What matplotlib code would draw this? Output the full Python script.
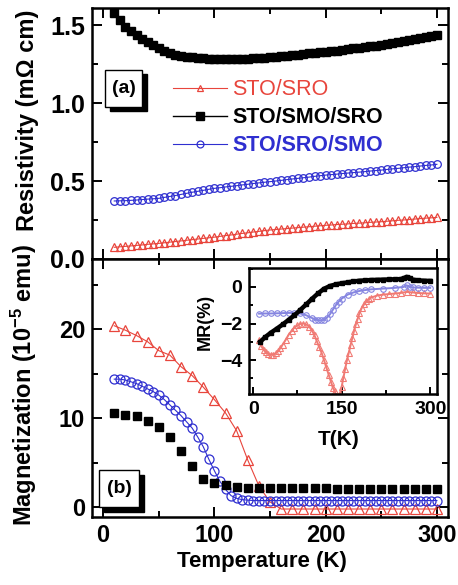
import matplotlib
matplotlib.use('Agg')
import matplotlib.pyplot as plt
import matplotlib.ticker as ticker
from matplotlib.patches import Rectangle

plt.rcParams['font.family'] = ['Liberation Sans', 'DejaVu Sans']
plt.rcParams['font.weight'] = 'bold'
plt.rcParams['mathtext.fontset'] = 'custom'
plt.rcParams['mathtext.rm'] = 'Liberation Sans:bold'
plt.rcParams['mathtext.default'] = 'rm'

RED = '#e8453c'
BLUE = '#2f2fd0'
RED_LIGHT = '#f07a74'
BLUE_LIGHT = '#8585e0'

# --- (a) resistivity, mOhm cm ---
t_rho = [10, 15, 20, 25, 30, 35, 40, 45, 50, 55, 60, 65, 70, 75, 80, 85,
         90, 95, 100, 105, 110, 115, 120, 125, 130, 135, 140, 145, 150,
         155, 160, 165, 170, 175, 180, 185, 190, 195, 200, 205, 210, 215,
         220, 225, 230, 235, 240, 245, 250, 255, 260, 265, 270, 275, 280,
         285, 290, 295, 300]
rho_sro = [0.075, 0.078, 0.081, 0.084, 0.087, 0.090, 0.094, 0.097, 0.100,
           0.104, 0.108, 0.112, 0.116, 0.120, 0.124, 0.128, 0.132, 0.136,
           0.140, 0.145, 0.150, 0.154, 0.159, 0.164, 0.168, 0.173, 0.177,
           0.182, 0.186, 0.189, 0.192, 0.195, 0.198, 0.201, 0.204, 0.207,
           0.210, 0.213, 0.216, 0.218, 0.221, 0.223, 0.225, 0.228, 0.230,
           0.232, 0.235, 0.237, 0.239, 0.242, 0.245, 0.248, 0.250, 0.253,
           0.256, 0.259, 0.262, 0.264, 0.267]
rho_sro_smo = [0.372, 0.373, 0.374, 0.376, 0.378, 0.381, 0.384, 0.386,
               0.389, 0.395, 0.401, 0.407, 0.414, 0.421, 0.428, 0.434,
               0.440, 0.447, 0.453, 0.457, 0.462, 0.466, 0.470, 0.475,
               0.479, 0.484, 0.488, 0.492, 0.496, 0.500, 0.504, 0.509,
               0.513, 0.517, 0.521, 0.525, 0.530, 0.534, 0.538, 0.541,
               0.544, 0.548, 0.551, 0.554, 0.557, 0.560, 0.564, 0.567,
               0.570, 0.574, 0.578, 0.581, 0.585, 0.589, 0.592, 0.596,
               0.600, 0.603, 0.607]
t_rho_smo_sro = [5] + t_rho
rho_smo_sro = [1.64, 1.58, 1.53, 1.49, 1.46, 1.436, 1.413, 1.393, 1.373,
               1.355, 1.337, 1.320, 1.309, 1.300, 1.296, 1.293, 1.289,
               1.286, 1.284, 1.282, 1.281, 1.281, 1.281, 1.282, 1.283,
               1.285, 1.287, 1.289, 1.291, 1.293, 1.296, 1.299, 1.302,
               1.306, 1.310, 1.314, 1.318, 1.322, 1.325, 1.329, 1.333,
               1.337, 1.341, 1.346, 1.350, 1.354, 1.359, 1.363, 1.368,
               1.372, 1.378, 1.384, 1.390, 1.396, 1.402, 1.409, 1.416,
               1.422, 1.429, 1.436]

# --- (b) magnetization, 1e-5 emu ---
t_mag = [10, 20, 30, 40, 50, 60, 70, 80, 90, 100, 110, 120, 130, 140, 150,
         160, 170, 180, 190, 200, 210, 220, 230, 240, 250, 260, 270, 280,
         290, 300]
mag_sro = [20.4, 19.9, 19.3, 18.6, 17.6, 17.1, 15.8, 14.8, 13.5, 12.1,
           10.6, 8.6, 5.3, 2.4, 0.6, -0.2, -0.2, -0.2, -0.2, -0.2, -0.2,
           -0.2, -0.2, -0.2, -0.2, -0.2, -0.2, -0.2, -0.2, -0.2]
mag_smo_sro = [10.6, 10.4, 10.2, 9.7, 9.0, 7.9, 6.3, 4.6, 3.2, 2.7, 2.5,
               2.3, 2.2, 2.2, 2.2, 2.2, 2.2, 2.2, 2.2, 2.2, 2.1, 2.1, 2.1,
               2.1, 2.1, 2.1, 2.1, 2.1, 2.1, 2.1]
t_mag_fine = t_rho
mag_sro_smo = [14.4, 14.4, 14.3, 14.1, 13.9, 13.6, 13.3, 13.0, 12.6, 12.1,
               11.5, 10.9, 10.3, 9.6, 8.9, 7.9, 6.8, 5.4, 4.1, 2.9, 2.0,
               1.3, 1.0, 0.85, 0.8, 0.75, 0.75, 0.75, 0.75, 0.75, 0.75,
               0.75, 0.75, 0.75, 0.75, 0.75, 0.75, 0.75, 0.75, 0.75, 0.75,
               0.75, 0.75, 0.75, 0.75, 0.75, 0.75, 0.75, 0.75, 0.75, 0.75,
               0.75, 0.75, 0.75, 0.75, 0.75, 0.75, 0.75, 0.75]

# --- inset, MR (%) ---
t_mr_smo_sro = [12, 20, 30, 40, 50, 60, 70, 80, 90, 100, 110, 120, 130,
                140, 150, 160, 170, 180, 190, 200, 210, 220, 230, 240, 250,
                255, 260, 265, 270, 280, 290, 300]
mr_smo_sro = [-3.0, -2.75, -2.5, -2.28, -2.05, -1.8, -1.55, -1.25, -0.95,
              -0.64, -0.35, -0.1, 0.05, 0.14, 0.2, 0.25, 0.3, 0.34, 0.36,
              0.38, 0.39, 0.4, 0.41, 0.42, 0.43, 0.48, 0.55, 0.5, 0.4,
              0.36, 0.34, 0.33]
t_mr_sro_smo = [10, 20, 30, 40, 50, 60, 70, 80, 90, 100, 105, 110, 115,
                120, 125, 130, 135, 140, 145, 150, 160, 170, 180, 190, 200,
                220, 240, 255, 260, 265, 270, 280, 290, 300]
mr_sro_smo = [-1.46, -1.45, -1.45, -1.44, -1.43, -1.42, -1.42, -1.45,
              -1.55, -1.7, -1.78, -1.82, -1.83, -1.8, -1.68, -1.5, -1.25,
              -1.0, -0.8, -0.64, -0.42, -0.3, -0.22, -0.17, -0.13, -0.09,
              -0.05, 0.0, 0.09, 0.02, -0.03, -0.04, -0.05, -0.05]
t_mr_sro = [10, 14, 18, 22, 26, 30, 34, 38, 42, 46, 50, 55, 60, 65, 70, 75,
            80, 85, 90, 95, 100, 104, 108, 112, 116, 120, 124, 128, 132,
            135, 138, 141, 144, 147, 150, 153, 156, 159, 162, 165, 168, 171,
            174, 177, 180, 184, 188, 192, 196, 200, 210, 220, 230, 240, 250,
            260, 270, 280, 290, 300]
mr_sro = [-2.91, -3.25, -3.45, -3.58, -3.66, -3.70, -3.70, -3.62, -3.52,
          -3.35, -3.15, -2.9, -2.62, -2.4, -2.22, -2.1, -2.02, -2.0, -2.05,
          -2.17, -2.4, -2.65, -2.98, -3.3, -3.6, -4.0, -4.4, -4.8, -5.2,
          -5.5, -5.7, -5.95, -6.0, -5.85, -5.45, -4.95, -4.46, -4.0, -3.6,
          -3.19, -2.8, -2.4, -2.05, -1.75, -1.45, -1.15, -0.95, -0.78,
          -0.66, -0.58, -0.47, -0.42, -0.39, -0.36, -0.33, -0.27, -0.3,
          -0.33, -0.35, -0.36]


def style_axis(ax, major_len=7, minor_len=4, all_sides=True):
    for sp in ax.spines.values():
        sp.set_linewidth(1.8)
    ax.tick_params(which='both', direction='in', width=1.4,
                   top=all_sides, right=all_sides)
    ax.tick_params(which='major', length=major_len)
    ax.tick_params(which='minor', length=minor_len)


def panel_tag(ax, text, x0, y0, w, h, dx, dy):
    ax.add_patch(Rectangle((x0 + dx, y0 - dy), w, h, transform=ax.transAxes,
                           facecolor='black', edgecolor='black',
                           clip_on=False, zorder=5))
    ax.add_patch(Rectangle((x0, y0), w, h, transform=ax.transAxes,
                           facecolor='white', edgecolor='black', lw=1.0,
                           clip_on=False, zorder=6))
    ax.text(x0 + w / 2, y0 + h / 2, text, transform=ax.transAxes,
            ha='center', va='center', fontsize=14, fontweight='bold',
            zorder=7)


fig = plt.figure(figsize=(4.58, 5.85), dpi=100)
ax_a = fig.add_axes([0.2009, 0.5573, 0.7773, 0.4291])
ax_b = fig.add_axes([0.2009, 0.1162, 0.7773, 0.4410])
ax_in = fig.add_axes([0.5437, 0.3265, 0.4098, 0.2149])

# (a)
ax_a.plot(t_rho, rho_sro, color=RED, lw=0.8, marker='^', ms=5.5,
          mfc='none', mew=0.9, label='STO/SRO')
ax_a.plot(t_rho_smo_sro, rho_smo_sro, color='black', lw=1.0, marker='s',
          ms=6, label='STO/SMO/SRO')
ax_a.plot(t_rho, rho_sro_smo, color=BLUE, lw=0.8, marker='o', ms=5.5,
          mfc='none', mew=0.9, label='STO/SRO/SMO')
ax_a.set_xlim(-10, 310)
ax_a.set_ylim(0, 1.61)
ax_a.xaxis.set_major_locator(ticker.MultipleLocator(100))
ax_a.xaxis.set_minor_locator(ticker.MultipleLocator(50))
ax_a.yaxis.set_major_locator(ticker.MultipleLocator(0.5))
ax_a.yaxis.set_minor_locator(ticker.MultipleLocator(0.25))
ax_a.yaxis.set_major_formatter(ticker.FormatStrFormatter('%.1f'))
ax_a.tick_params(labelbottom=False, labelsize=18, pad=5)
style_axis(ax_a)
ax_a.set_ylabel('Resistivity (m\u03a9 cm)', fontsize=17, fontweight='bold')
ax_a.yaxis.set_label_coords(-0.15, 0.554)

leg = ax_a.legend(loc='upper left', bbox_to_anchor=(0.2275, 0.715),
                  frameon=False, fontsize=15.5, handlelength=2.5,
                  handletextpad=0.25, labelspacing=0.32, borderpad=0,
                  borderaxespad=0, markerscale=0.9)
for txt, col in zip(leg.get_texts(), [RED, 'black', BLUE]):
    txt.set_color(col)
leg.get_texts()[0].set_fontweight('normal')
panel_tag(ax_a, '(a)', 0.037, 0.606, 0.104, 0.147, 0.013, 0.018)

# (b)
ax_b.plot(t_mag, mag_sro, color=RED, lw=0.8, marker='^', ms=7.5,
          mfc='none', mew=0.9)
ax_b.plot(t_mag_fine, mag_sro_smo, color=BLUE, lw=0.8, marker='o', ms=6.5,
          mfc='none', mew=0.9)
ax_b.plot(t_mag, mag_smo_sro, color='black', lw=0, marker='s', ms=5.5)
ax_b.set_xlim(-10, 310)
ax_b.set_ylim(-1.1, 27.9)
ax_b.xaxis.set_major_locator(ticker.MultipleLocator(100))
ax_b.xaxis.set_minor_locator(ticker.MultipleLocator(50))
ax_b.yaxis.set_major_locator(ticker.MultipleLocator(10))
ax_b.yaxis.set_minor_locator(ticker.MultipleLocator(5))
ax_b.tick_params(labelsize=17, pad=5)
style_axis(ax_b)
ax_b.set_ylabel('Magnetization (10$^{-5}$ emu)', fontsize=17,
                fontweight='bold')
ax_b.yaxis.set_label_coords(-0.15, 0.512)
ax_b.set_xlabel('Temperature (K)', fontsize=16, fontweight='bold')
ax_b.xaxis.set_label_coords(0.478, -0.13)
panel_tag(ax_b, '(b)', 0.020, 0.039, 0.112, 0.143, 0.013, 0.019)

# inset
ax_in.plot(t_mr_sro, mr_sro, color=RED_LIGHT, lw=1.4, marker='^', ms=4,
           mfc='none', mew=0.8)
ax_in.plot(t_mr_sro_smo, mr_sro_smo, color=BLUE_LIGHT, lw=1.4, marker='o',
           ms=4, mfc='none', mew=0.8)
ax_in.plot(t_mr_smo_sro, mr_smo_sro, color='black', lw=3.2, marker='s',
           ms=3.5)
ax_in.set_xlim(-7, 311)
ax_in.set_ylim(-5.85, 1.02)
ax_in.xaxis.set_major_locator(ticker.MultipleLocator(150))
ax_in.xaxis.set_minor_locator(ticker.MultipleLocator(75))
ax_in.yaxis.set_major_locator(ticker.MultipleLocator(2))
ax_in.yaxis.set_minor_locator(ticker.MultipleLocator(1))
style_axis(ax_in, major_len=5, minor_len=3, all_sides=False)
ax_in.tick_params(labelsize=14, pad=5)
ax_in.set_xlabel('T(K)', fontsize=15, fontweight='bold')
ax_in.xaxis.set_label_coords(0.48, -0.286)
ax_in.set_ylabel('MR(%)', fontsize=13, fontweight='bold')
ax_in.yaxis.set_label_coords(-0.19, 0.573)

fig.savefig('out.png', dpi=100)
